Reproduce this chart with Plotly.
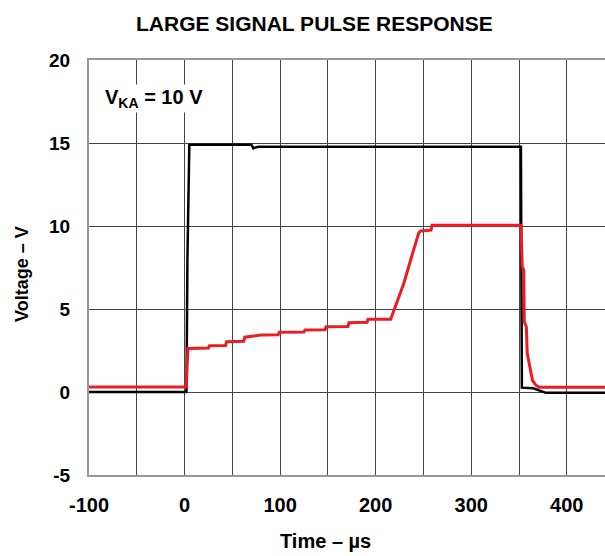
import plotly.graph_objects as go

# ---- data ----
input_t = [-100, 2, 3, 5, 70, 72, 75, 78, 352, 353, 365, 372, 378, 440]
input_v = [0.0, 0.0, 8.0, 14.9, 14.9, 14.68, 14.75, 14.77, 14.77, 0.26, 0.22, 0.05, -0.05, -0.05]

output_t = [-100, 1.8, 3.5, 25, 26, 43, 44, 62, 63, 80, 98, 99, 125, 126, 147, 148,
            171, 172, 191, 192, 215.7, 222.7, 229.5, 236.6, 242, 245, 247, 258, 259,
            352, 353.4, 355, 355.5, 357.7, 358.6, 361.5, 364, 367.5, 371, 440]
output_v = [0.3, 0.3, 2.62, 2.65, 2.78, 2.8, 3.03, 3.05, 3.3, 3.43, 3.45, 3.6, 3.62, 3.73,
            3.75, 3.93, 3.95, 4.17, 4.2, 4.38, 4.38, 5.54, 6.55, 7.95, 8.97, 9.58, 9.7,
            9.75, 10.05, 10.05, 7.55, 7.35, 4.23, 3.93, 2.35, 1.33, 0.72, 0.42, 0.28, 0.28]

x_ticks = [-100, 0, 100, 200, 300, 400]
y_ticks = [-5, 0, 5, 10, 15, 20]

FONT = "Liberation Sans, Arial, sans-serif"
GRID = "#444444"

fig = go.Figure()
fig.add_trace(go.Scatter(x=input_t, y=input_v, mode="lines",
                         line=dict(color="#000000", width=2.5), showlegend=False))
fig.add_trace(go.Scatter(x=output_t, y=output_v, mode="lines",
                         line=dict(color="#ED1C24", width=3), showlegend=False))

fig.update_layout(
    width=605, height=556,
    margin=dict(l=89, r=0, t=60, b=81),
    paper_bgcolor="white", plot_bgcolor="white",
    font=dict(family=FONT, color="black"),
    showlegend=False,
)
fig.update_xaxes(
    range=[-100, 440], tickvals=x_ticks, ticktext=[str(v) for v in x_ticks],
    showgrid=True, gridcolor=GRID, gridwidth=1,
    minor=dict(dtick=50, tick0=0, showgrid=True, gridcolor=GRID, gridwidth=1),
    showline=True, linecolor="#999999", linewidth=2, mirror=True,
    ticks="outside", ticklen=11, tickcolor="rgba(0,0,0,0)",
    tickfont=dict(size=20, family=FONT, color="black", weight="bold"),
    zeroline=False, automargin=False,
)
fig.update_yaxes(
    range=[-5, 20], tickvals=y_ticks, ticktext=[str(v) for v in y_ticks],
    showgrid=True, gridcolor=GRID, gridwidth=1,
    showline=True, linecolor="#999999", linewidth=2, mirror=False,
    ticks="outside", ticklen=13, tickcolor="rgba(0,0,0,0)",
    tickfont=dict(size=19, family=FONT, color="black", weight="bold"),
    zeroline=False, automargin=False,
)

fig.add_annotation(text="<b>LARGE SIGNAL PULSE RESPONSE</b>", xref="paper", yref="paper",
                   x=(314 - 89) / 516, y=1 + (60 - 24) / 415, showarrow=False,
                   font=dict(size=21, family=FONT, color="black"),
                   xanchor="center", yanchor="middle")
fig.add_annotation(text="<b>Time – µs</b>", xref="paper", yref="paper",
                   x=(325 - 89) / 516, y=-(541 - 475) / 415, showarrow=False,
                   font=dict(size=20, family=FONT, color="black"),
                   xanchor="center", yanchor="middle")
fig.add_annotation(text="<b>Voltage – V</b>", xref="paper", yref="paper",
                   x=-(89 - 22) / 516, y=(475 - 274) / 415, showarrow=False,
                   textangle=-90,
                   font=dict(size=18, family=FONT, color="black"),
                   xanchor="center", yanchor="middle")
fig.add_annotation(text="<b>V<sub>KA</sub> = 10 V</b>", x=-85, y=17.7,
                   xref="x", yref="y", showarrow=False,
                   xanchor="left", yanchor="middle", bgcolor="white",
                   font=dict(size=20, family=FONT, color="black"))

fig.write_html("out.html", config={"displayModeBar": False},
               post_script="document.body.style.margin='0';")
